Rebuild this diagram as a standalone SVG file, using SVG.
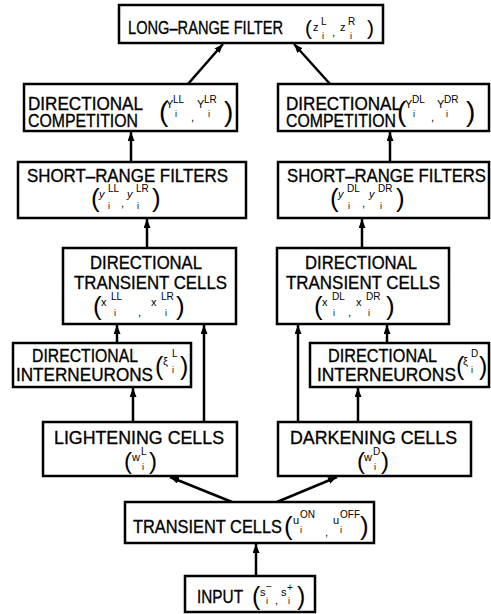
<svg xmlns="http://www.w3.org/2000/svg" width="491" height="614" viewBox="0 0 491 614">
<style>
.b{fill:#fff;stroke:#000;stroke-width:2.5}
text{font-family:"Liberation Sans",Arial,sans-serif;fill:#000}
.l{font-size:19px;stroke:#000;stroke-width:0.35}
.p{font-size:26px}
.v{font-size:11px}
.s{font-size:10px}
.i{font-size:9px}
.c{stroke:#000;stroke-width:2.5;fill:none;marker-end:url(#ah)}
</style>
<defs>
<marker id="ah" markerUnits="userSpaceOnUse" markerWidth="10" markerHeight="8" refX="9" refY="3.5" orient="auto">
<path d="M0,0 L9,3.5 L0,7 z" fill="#000"/>
</marker>
</defs>
<rect width="491" height="614" fill="#fff"/>
<g id="connectors">
<line class="c" x1="188" y1="84" x2="223" y2="44"/>
<line class="c" x1="330" y1="84" x2="294" y2="44"/>
<line class="c" x1="131" y1="162" x2="131" y2="132"/>
<line class="c" x1="390" y1="162" x2="390" y2="132"/>
<line class="c" x1="147" y1="248" x2="147" y2="219"/>
<line class="c" x1="362" y1="248" x2="362" y2="219"/>
<line class="c" x1="117" y1="343" x2="117" y2="325"/>
<line class="c" x1="204" y1="422" x2="204" y2="325"/>
<line class="c" x1="133" y1="422" x2="133" y2="388"/>
<line class="c" x1="298" y1="422" x2="298" y2="325"/>
<line class="c" x1="387" y1="343" x2="387" y2="325"/>
<line class="c" x1="358" y1="422" x2="358" y2="388"/>
<line class="c" x1="232" y1="502" x2="170" y2="477"/>
<line class="c" x1="277" y1="502" x2="337" y2="477"/>
<line class="c" x1="256" y1="576" x2="256" y2="544"/>
</g>
<g id="long-range-filter">
<rect class="b" x="119" y="5" width="264" height="38"/>
<text class="l" x="128" y="34" textLength="155" lengthAdjust="spacingAndGlyphs">LONG–RANGE FILTER</text>
<text x="305" y="35" font-size="21">(</text>
<text class="v" x="313" y="31">z</text><text class="s" x="321" y="25">L</text><text class="i" x="322" y="39">i</text>
<text class="v" x="332" y="36">,</text>
<text class="v" x="340" y="31">z</text><text class="s" x="348" y="25">R</text><text class="i" x="350" y="39">i</text>
<text x="367" y="35" font-size="21">)</text>
</g>
<g id="competition-left">
<rect class="b" x="24" y="84" width="213" height="47"/>
<text class="l" x="28" y="110" textLength="115" lengthAdjust="spacingAndGlyphs">DIRECTIONAL</text>
<text class="l" x="28" y="127" textLength="110" lengthAdjust="spacingAndGlyphs">COMPETITION</text>
<text x="159" y="121" font-size="28">(</text>
<text class="v" x="166" y="108">Y</text><text class="s" x="173" y="103">LL</text><text class="i" x="175" y="117">i</text>
<text class="v" x="191" y="121">,</text>
<text class="v" x="197" y="108">Y</text><text class="s" x="204" y="103">LR</text><text class="i" x="208" y="117">i</text>
<text x="224" y="121" font-size="28">)</text>
</g>
<g id="competition-right">
<rect class="b" x="278" y="84" width="211" height="47"/>
<text class="l" x="286" y="110" textLength="115" lengthAdjust="spacingAndGlyphs">DIRECTIONAL</text>
<text class="l" x="286" y="127" textLength="110" lengthAdjust="spacingAndGlyphs">COMPETITION</text>
<text x="397" y="121" font-size="28">(</text>
<text class="v" x="405" y="108">Y</text><text class="s" x="412" y="103">DL</text><text class="i" x="413" y="117">i</text>
<text class="v" x="431" y="121">,</text>
<text class="v" x="437" y="108">Y</text><text class="s" x="444" y="103">DR</text><text class="i" x="446" y="117">i</text>
<text x="466" y="121" font-size="28">)</text>
</g>
<g id="short-range-left">
<rect class="b" x="18" y="162" width="228" height="56"/>
<text class="l" x="27" y="182" textLength="201" lengthAdjust="spacingAndGlyphs">SHORT–RANGE FILTERS</text>
<text class="p" x="91" y="207">(</text>
<text class="v" x="99" y="198" font-style="italic">y</text><text class="s" x="108" y="192">LL</text><text class="i" x="108" y="209">i</text>
<text class="v" x="121" y="207">,</text>
<text class="v" x="127" y="198" font-style="italic">y</text><text class="s" x="136" y="192">LR</text><text class="i" x="137" y="209">i</text>
<text class="p" x="152" y="207">)</text>
</g>
<g id="short-range-right">
<rect class="b" x="278" y="162" width="211" height="56"/>
<text class="l" x="287" y="182" textLength="199" lengthAdjust="spacingAndGlyphs">SHORT–RANGE FILTERS</text>
<text class="p" x="330" y="207">(</text>
<text class="v" x="338" y="198" font-style="italic">y</text><text class="s" x="347" y="192">DL</text><text class="i" x="348" y="209">i</text>
<text class="v" x="362" y="207">,</text>
<text class="v" x="369" y="198" font-style="italic">y</text><text class="s" x="378" y="192">DR</text><text class="i" x="380" y="209">i</text>
<text class="p" x="396" y="207">)</text>
</g>
<g id="transient-directional-left">
<rect class="b" x="63" y="248" width="173" height="76"/>
<text class="l" x="90" y="269" textLength="112" lengthAdjust="spacingAndGlyphs">DIRECTIONAL</text>
<text class="l" x="74" y="289" textLength="153" lengthAdjust="spacingAndGlyphs">TRANSIENT CELLS</text>
<text class="p" x="93" y="315">(</text>
<text class="v" x="101" y="306">x</text><text class="s" x="111" y="300">LL</text><text class="i" x="114" y="316">i</text>
<text class="v" x="138" y="316">,</text>
<text class="v" x="151" y="306">x</text><text class="s" x="161" y="300">LR</text><text class="i" x="165" y="316">i</text>
<text class="p" x="176" y="315">)</text>
</g>
<g id="transient-directional-right">
<rect class="b" x="277" y="248" width="172" height="76"/>
<text class="l" x="305" y="269" textLength="112" lengthAdjust="spacingAndGlyphs">DIRECTIONAL</text>
<text class="l" x="286" y="289" textLength="154" lengthAdjust="spacingAndGlyphs">TRANSIENT CELLS</text>
<text class="p" x="314" y="315">(</text>
<text class="v" x="322" y="306">x</text><text class="s" x="332" y="300">DL</text><text class="i" x="333" y="316">i</text>
<text class="v" x="348" y="316">,</text>
<text class="v" x="356" y="306">x</text><text class="s" x="366" y="300">DR</text><text class="i" x="368" y="316">i</text>
<text class="p" x="386" y="315">)</text>
</g>
<g id="interneurons-left">
<rect class="b" x="13" y="343" width="178" height="44"/>
<text class="l" x="32" y="362" textLength="106" lengthAdjust="spacingAndGlyphs">DIRECTIONAL</text>
<text class="l" x="16" y="381" textLength="137" lengthAdjust="spacingAndGlyphs">INTERNEURONS</text>
<text x="155" y="375" font-size="25">(</text>
<text class="v" x="163" y="365">ξ</text><text class="s" x="172" y="357">L</text><text class="i" x="172" y="373">i</text>
<text x="180" y="375" font-size="25">)</text>
</g>
<g id="interneurons-right">
<rect class="b" x="310" y="343" width="179" height="44"/>
<text class="l" x="328" y="362" textLength="109" lengthAdjust="spacingAndGlyphs">DIRECTIONAL</text>
<text class="l" x="317" y="381" textLength="139" lengthAdjust="spacingAndGlyphs">INTERNEURONS</text>
<text x="456" y="375" font-size="25">(</text>
<text class="v" x="463" y="365">ξ</text><text class="s" x="471" y="357">D</text><text class="i" x="471" y="373">i</text>
<text x="479" y="375" font-size="25">)</text>
</g>
<g id="lightening-cells">
<rect class="b" x="43" y="422" width="194" height="54"/>
<text class="l" x="54" y="444" textLength="170" lengthAdjust="spacingAndGlyphs">LIGHTENING CELLS</text>
<text x="124" y="469" font-size="24">(</text>
<text class="v" x="132" y="461">w</text><text class="s" x="141" y="455">L</text><text class="i" x="142" y="470">i</text>
<text x="149" y="469" font-size="24">)</text>
</g>
<g id="darkening-cells">
<rect class="b" x="278" y="422" width="193" height="54"/>
<text class="l" x="290" y="444" textLength="167" lengthAdjust="spacingAndGlyphs">DARKENING CELLS</text>
<text x="357" y="469" font-size="24">(</text>
<text class="v" x="364" y="461">w</text><text class="s" x="373" y="455">D</text><text class="i" x="374" y="470">i</text>
<text x="381" y="469" font-size="24">)</text>
</g>
<g id="transient-cells">
<rect class="b" x="125" y="502" width="249" height="41"/>
<text class="l" x="133" y="533" textLength="149" lengthAdjust="spacingAndGlyphs">TRANSIENT CELLS</text>
<text class="p" x="284" y="535">(</text>
<text class="v" x="293" y="524">u</text><text class="s" x="300" y="518">ON</text><text class="i" x="300" y="533">i</text>
<text class="v" x="325" y="536">,</text>
<text class="v" x="333" y="524">u</text><text class="s" x="340" y="518">OFF</text><text class="i" x="340" y="533">i</text>
<text class="p" x="360" y="535">)</text>
</g>
<g id="input">
<rect class="b" x="185" y="576" width="130" height="36"/>
<text class="l" x="197" y="603" textLength="46" lengthAdjust="spacingAndGlyphs">INPUT</text>
<text x="252" y="605" font-size="25">(</text>
<text class="v" x="260" y="596">s</text><text class="s" x="266" y="590">−</text><text class="i" x="266" y="604">i</text>
<text class="v" x="275" y="604">,</text>
<text class="v" x="281" y="596">s</text><text class="s" x="287" y="591">+</text><text class="i" x="288" y="604">i</text>
<text x="297" y="605" font-size="25">)</text>
</g>
</svg>
